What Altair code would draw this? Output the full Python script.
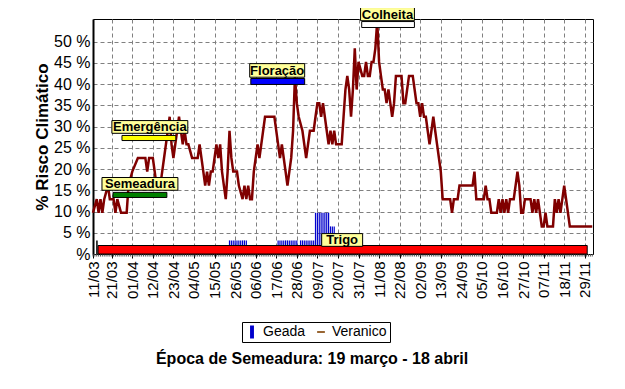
import altair as alt
import pandas as pd

# ---------------- data (day offsets counted from 11/03) ----------------
ANO = 2001
INICIO = pd.Timestamp(f"{ANO}-03-11")

# Veranico (% risco climático) - vertices
ver_dias = [0, 2, 3, 4, 5, 6, 8, 9, 11, 12, 13, 15, 18, 19, 21, 24, 28, 29, 30, 32,
            33, 34, 36, 37, 38, 39, 40, 41, 42, 43, 44, 45, 46, 47, 48, 49, 50, 51, 53, 56,
            57, 59, 60, 61, 62, 63, 64, 65, 66, 67, 68, 69, 70, 71, 72, 73, 74, 75, 77, 78,
            80, 81, 82, 83, 84, 85, 86, 88, 89, 90, 92, 97, 99, 100, 101, 102, 103, 104, 105, 106,
            107, 108, 109, 110, 112, 113, 114, 115, 116, 118, 119, 120, 121, 122, 123, 125, 126, 127, 128, 129,
            130, 133, 134, 135, 136, 137, 138, 139, 140, 141, 142, 144, 145, 146, 147, 148, 149, 150, 151, 152,
            153, 154, 155, 156, 157, 158, 159, 160, 161, 162, 165, 166, 167, 168, 169, 171, 172, 173, 174, 175,
            176, 177, 178, 179, 180, 181, 182, 183, 184, 185, 186, 187, 191, 192, 193, 195, 196, 203, 204, 205,
            209, 210, 211, 212, 213, 216, 217, 218, 219, 220, 221, 222, 223, 225, 226, 227, 228, 229, 230, 231,
            234, 235, 236, 237, 238, 239, 240, 241, 242, 243, 246, 247, 248, 249, 250, 251, 252, 253, 254, 255,
            267]
ver_valor = [9.7, 12.9, 9.7, 12.9, 9.7, 12.9, 16.1, 12.9, 12.9, 9.7, 12.9, 9.7, 9.7, 16.1, 19.4, 22.6, 22.6, 19.4, 22.6, 22.6,
             19.4, 16.1, 16.1, 19.4, 22.6, 25.8, 29.0, 32.3, 25.8, 22.6, 25.8, 29.0, 32.3, 29.0, 25.8, 29.0, 25.8, 25.8, 22.6, 22.6,
             25.8, 19.4, 16.1, 19.4, 16.1, 19.4, 19.4, 22.6, 25.8, 22.6, 25.8, 19.4, 16.1, 12.9, 19.4, 29.0, 22.6, 19.4, 19.4, 16.1,
             12.9, 16.1, 12.9, 16.1, 12.9, 12.9, 19.4, 25.8, 22.6, 25.8, 32.3, 32.3, 25.8, 22.6, 25.8, 22.6, 19.4, 16.1, 19.4, 22.6,
             29.0, 41.9, 35.5, 32.3, 29.0, 25.8, 22.6, 25.8, 29.0, 29.0, 32.3, 35.5, 35.5, 32.3, 35.5, 29.0, 25.8, 29.0, 25.8, 29.0,
             25.8, 25.8, 32.3, 38.7, 41.9, 38.7, 32.3, 38.7, 48.4, 38.7, 45.2, 41.9, 41.9, 45.2, 41.9, 41.9, 45.2, 45.2, 48.4, 54.8,
             45.2, 41.9, 38.7, 38.7, 35.5, 38.7, 35.5, 32.3, 35.5, 41.9, 41.9, 35.5, 35.5, 38.7, 41.9, 41.9, 38.7, 35.5, 35.5, 32.3,
             35.5, 32.3, 32.3, 29.0, 25.8, 29.0, 32.3, 29.0, 25.8, 22.6, 19.4, 12.9, 12.9, 9.7, 12.9, 12.9, 16.1, 16.1, 19.4, 12.9,
             12.9, 16.1, 12.9, 12.9, 9.7, 9.7, 12.9, 9.7, 12.9, 9.7, 12.9, 9.7, 12.9, 12.9, 16.1, 19.4, 16.1, 9.7, 9.7, 12.9,
             12.9, 9.7, 12.9, 9.7, 12.9, 9.7, 6.5, 6.5, 9.7, 6.5, 6.5, 12.9, 9.7, 12.9, 9.7, 12.9, 16.1, 12.9, 9.7, 6.5,
             6.5]

# Geada (% risco) - one bar per day
geada_dias = [73, 74, 75, 76, 77, 78, 79, 80, 81, 82,
              99, 100, 101, 102, 103, 104, 105, 106, 107, 108, 109,
              111, 112, 113, 114, 115, 116, 117, 118,
              119, 120, 121, 122, 123, 124, 125, 126,
              127, 128, 129]
geada_valor = [3.2] * 10 + [3.2] * 11 + [3.2] * 8 + [9.7] * 8 + [6.5] * 3

# Phases (bars + labels)
fase_nome = ["Semeadura", "Emergência", "Floração", "Colheita"]
fase_ini = [10.7, 15.5, 84.4, 143.7]
fase_fim = [39.5, 44.3, 113.2, 171.9]
fase_y_baixo = [13.3, 26.7, 39.9, 53.3]
fase_y_alto = [14.5, 27.9, 41.3, 54.7]
fase_cor = ["#008000", "#FFFF00", "#0000FF", "#FFFFFF"]
rotulo_ini = [4.8, 10.1, 83.8, 143.1]
rotulo_fim = [45.4, 50.7, 113.2, 171.9]
rotulo_y_baixo = [15.0, 28.4, 41.6, 54.9]
rotulo_y_alto = [18.0, 31.4, 44.8, 58.0]

# Cultura (Trigo)
trigo_ini, trigo_fim = 2.7, 264.3
trigo_y = 2.0
trigo_rotulo_ini, trigo_rotulo_fim = 122.3, 144.2
trigo_rotulo_y = (1.8, 4.8)

# axis ticks
x_rotulos = ["11/03", "21/03", "01/04", "12/04", "23/04", "04/05", "15/05", "26/05", "06/06",
             "17/06", "28/06", "09/07", "20/07", "31/07", "11/08", "22/08", "02/09", "13/09",
             "24/09", "05/10", "16/10", "27/10", "07/11", "18/11", "29/11"]
y_valores = [0, 5, 10, 15, 20, 25, 30, 35, 40, 45, 50]
Y_MAX = 55.3
X_FIM_DIAS = 267.4

titulo = "Época de Semeadura: 19 março - 18 abril"
eixo_y_titulo = "% Risco Climático"
legenda_nomes = ["Geada", "Veranico"]
legenda_cores = ["#0000CC", "#996633"]

FONT = "Liberation Sans"


def d(dias):
    return INICIO + pd.Timedelta(days=float(dias))


def dt(ts):
    return alt.DateTime(year=ts.year, month=ts.month, date=ts.day, hours=ts.hour, minutes=ts.minute)


x_vals = [alt.DateTime(year=ANO, month=int(s[3:]), date=int(s[:2])) for s in x_rotulos]
x_scale = alt.Scale(domain=[dt(d(0)), dt(d(X_FIM_DIAS))])
y_scale = alt.Scale(domain=[0, Y_MAX], nice=False, zero=False)

x_axis = alt.Axis(values=x_vals, format="%d/%m", labelAngle=270, title=None, grid=True,
                  gridDash=[4, 3], gridColor="#808080", tickSize=4, tickColor="black",
                  domainColor="black", labelFontSize=15, labelPadding=3, labelOverlap=False,
                  labelColor="black", labelFont=FONT)
y_axis = alt.Axis(values=y_valores, labelExpr="datum.value == 0 ? '%' : datum.value + ' %'",
                  title=eixo_y_titulo, titleFontSize=17, titleFontWeight="bold", titleFont=FONT,
                  titleColor="black", titlePadding=2, grid=True, gridDash=[4, 3], gridColor="#808080",
                  ticks=False, domainColor="black", domainWidth=2, labelFontSize=16, labelPadding=3,
                  labelColor="black", labelFont=FONT)


def X(field):
    return alt.X(field, type="temporal", scale=x_scale, axis=x_axis)


def Y(field):
    return alt.Y(field, type="quantitative", scale=y_scale, axis=y_axis)


# ---------------- frames ----------------
df_ver = pd.DataFrame({"data": [d(v) for v in ver_dias], "valor": ver_valor})
df_geada = pd.DataFrame({"data": [d(v) for v in geada_dias], "valor": geada_valor, "base": 0.0})
df_minor = pd.DataFrame({"data": [d(v) for v in range(0, 268)], "y0": 0.0, "y1": -0.6})
df_fase = pd.DataFrame({"nome": fase_nome, "ini": [d(v) for v in fase_ini],
                        "fim": [d(v) for v in fase_fim], "yb": fase_y_baixo, "ya": fase_y_alto,
                        "cor": fase_cor})
df_rot = pd.DataFrame({
    "nome": fase_nome + ["Trigo"],
    "ini": [d(v) for v in rotulo_ini] + [d(trigo_rotulo_ini)],
    "fim": [d(v) for v in rotulo_fim] + [d(trigo_rotulo_fim)],
    "yb": rotulo_y_baixo + [trigo_rotulo_y[0]],
    "ya": rotulo_y_alto + [trigo_rotulo_y[1]],
})
df_rot["meio"] = df_rot["ini"] + (df_rot["fim"] - df_rot["ini"]) / 2
df_rot["ym"] = (df_rot["yb"] + df_rot["ya"]) / 2
df_trigo = pd.DataFrame({"ini": [d(trigo_ini)], "fim": [d(trigo_fim)], "yb": [0.0], "ya": [trigo_y],
                         "ini_marca": [d(trigo_ini - 0.6)], "ya_marca": [3.2]})

# ---------------- layers ----------------
minor = alt.Chart(df_minor).mark_rule(color="#555555", strokeWidth=1).encode(
    x=X("data"), y=Y("y0"), y2="y1")

geada = alt.Chart(df_geada).mark_rule(color="#0000CC", strokeWidth=1.2).encode(
    x=X("data"), y=Y("valor"), y2="base")

veranico = alt.Chart(df_ver).mark_line(color="#800000", strokeWidth=2.5, interpolate="linear").encode(
    x=X("data"), y=Y("valor"))

trigo = alt.Chart(df_trigo).mark_rect(color="#FF0000", stroke="black", strokeWidth=1).encode(
    x=X("ini"), x2="fim", y=Y("yb"), y2="ya")

trigo_marca = alt.Chart(df_trigo).mark_rule(color="black", strokeWidth=1.5).encode(
    x=X("ini_marca"), y=Y("yb"), y2="ya_marca")

fases = alt.Chart(df_fase).mark_rect(stroke="black", strokeWidth=1).encode(
    x=X("ini"), x2="fim", y=Y("yb"), y2="ya", fill=alt.Fill("cor:N", scale=None))

caixas = alt.Chart(df_rot).mark_rect(fill="#FFFF99", stroke="black", strokeWidth=1).encode(
    x=X("ini"), x2="fim", y=Y("yb"), y2="ya")

textos = alt.Chart(df_rot).mark_text(font=FONT, fontSize=13, fontWeight="bold", color="black",
                                     baseline="middle", align="center", dy=0.5).encode(
    x=X("meio"), y=Y("ym"), text="nome:N")

legenda = alt.Chart(alt.Data(values=[])).mark_point(filled=True, opacity=1, size=169).encode(
    color=alt.Color("serie:N", scale=alt.Scale(domain=legenda_nomes, range=legenda_cores),
                    legend=alt.Legend(title=None, orient="none", legendX=149, legendY=303,
                                      direction="horizontal", strokeColor="black", fillColor="white",
                                      padding=3, labelFontSize=14, labelFont=FONT, labelColor="black",
                                      symbolStrokeWidth=0, columnPadding=8, labelOffset=4,
                                      symbolSize=169)),
    shape=alt.Shape("serie:N", scale=alt.Scale(domain=legenda_nomes,
                                               range=["M-0.3,-1H0.3V1H-0.3Z",
                                                      "M-0.6,-0.15H0.6V0.15H-0.6Z"])),
)

chart = alt.layer(minor, geada, veranico, trigo, trigo_marca, fases, caixas, textos, legenda).properties(
    width=500, height=235,
    autosize=alt.AutoSizeParams(type="none"),
    padding={"left": 85, "top": 11, "right": 24, "bottom": 127},
    background="white",
    title=alt.TitleParams(titulo, orient="bottom", anchor="middle", fontSize=16, fontWeight="bold",
                          font=FONT, color="black", offset=8, dx=-31),
).configure_view(stroke="black", strokeWidth=1)

chart.save("out.html", embed_options={"renderer": "svg", "actions": False})
